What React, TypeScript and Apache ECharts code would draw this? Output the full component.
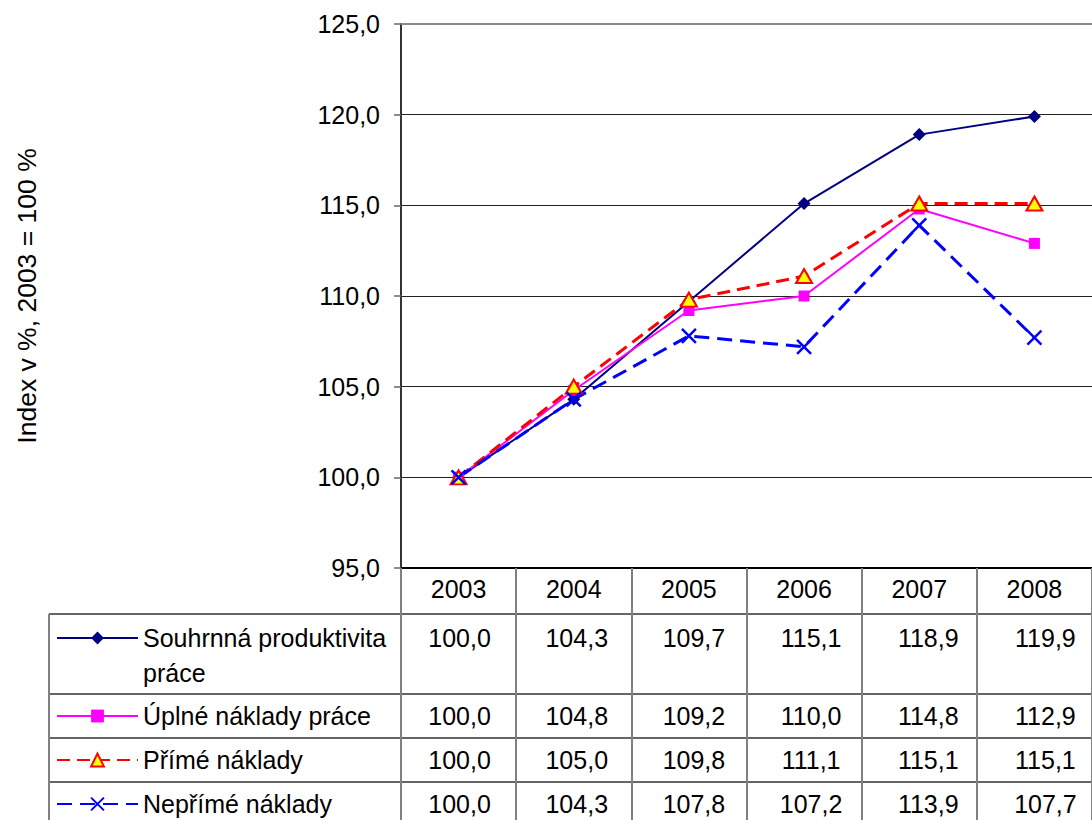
import React, { useEffect, useRef } from "react";
import * as echarts from "echarts";

const years = ["2003", "2004", "2005", "2006", "2007", "2008"];
const souhrnna = [100.0, 104.3, 109.7, 115.1, 118.9, 119.9];
const uplne = [100.0, 104.8, 109.2, 110.0, 114.8, 112.9];
const prime = [100.0, 105.0, 109.8, 111.1, 115.1, 115.1];
const neprime = [100.0, 104.3, 107.8, 107.2, 113.9, 107.7];
const seriesNames = [
  "Souhrnná produktivita práce",
  "Úplné náklady práce",
  "Přímé náklady",
  "Nepřímé náklady",
];
const yAxisTitle = "Index v %, 2003 = 100 %";
const yMin = 95;
const yMax = 125;
const yStep = 5;

const FONT = "'Liberation Sans', Arial, sans-serif";
const FS = 25;

// layout
const GL = 401;
const GW = 703;
const GT = 24;
const GB = 568;
const rowCenters = [638, 716, 760, 804];
const tableLines = [614, 694, 738, 782];

const fmt = (v: number) => v.toFixed(1).replace(".", ",");

export default function App() {
  const ref = useRef<HTMLDivElement>(null);
  useEffect(() => {
    const chart = echarts.init(ref.current!, null, { renderer: "svg" });
    const rows = [souhrnna, uplne, prime, neprime];
    const colW = GW / years.length;

    const graphics: any[] = [];
    graphics.push({
      type: "line",
      shape: { x1: GL, y1: GT, x2: 1092, y2: GT },
      style: { stroke: "#888", lineWidth: 2 },
      z: 1,
    });
    tableLines.forEach((y) => {
      graphics.push({
        type: "line",
        shape: { x1: 49, y1: y, x2: 1092, y2: y },
        style: { stroke: "#333", lineWidth: 1.5 },
      });
    });
    graphics.push({
      type: "line",
      shape: { x1: 49, y1: 614, x2: 49, y2: 820 },
      style: { stroke: "#808080", lineWidth: 2 },
    });
    rows.forEach((vals, r) => {
      vals.forEach((v, i) => {
        graphics.push({
          type: "text",
          style: {
            text: fmt(v),
            x: GL + (i + 0.5) * colW,
            y: rowCenters[r],
            textAlign: "center",
            textVerticalAlign: "middle",
            align: "center",
            verticalAlign: "middle",
            fontSize: FS,
            fontFamily: FONT,
            fill: "#000",
          },
        });
      });
    });
    graphics.push({
      type: "text",
      style: {
        text: "práce",
        x: 143,
        y: 673,
        textAlign: "left",
        textVerticalAlign: "middle",
        align: "left",
        verticalAlign: "middle",
        fontSize: FS,
        fontFamily: FONT,
        fill: "#000",
      },
    });

    const option: any = {
      animation: false,
      backgroundColor: "#fff",
      textStyle: { fontFamily: FONT },
      grid: { left: GL, top: GT, width: GW, height: GB - GT },
      legend: seriesNames.map((n, i) => ({
        data: [n],
        left: 56,
        top: rowCenters[i] - 15,
        padding: 0,
        itemWidth: 81,
        itemHeight: 16,
        selectedMode: false,
        formatter: (name: string) =>
          name === seriesNames[0] ? "Souhrnná produktivita" : name,
        textStyle: { fontSize: FS, lineHeight: 30, color: "#000", fontFamily: FONT },
      })),
      xAxis: {
        type: "category",
        data: years,
        boundaryGap: true,
        axisLine: { show: true, lineStyle: { color: "#000", width: 2 } },
        axisTick: { show: true, length: 252, lineStyle: { color: "#808080", width: 2 } },
        axisLabel: { margin: 8, fontSize: FS, color: "#000", fontFamily: FONT },
        splitLine: { show: false },
      },
      yAxis: {
        type: "value",
        min: yMin,
        max: yMax,
        interval: yStep,
        name: yAxisTitle,
        nameLocation: "middle",
        nameGap: 361,
        nameRotate: 90,
        nameTextStyle: { fontSize: 26.5, color: "#000", fontFamily: FONT },
        axisLine: { show: true, lineStyle: { color: "#333", width: 2 } },
        axisTick: { show: true, length: 7, lineStyle: { color: "#666", width: 1.5 } },
        axisLabel: { margin: 21, fontSize: FS, color: "#000", fontFamily: FONT, formatter: fmt },
        splitLine: { show: true, lineStyle: { color: "#222", width: 1 } },
      },
      series: [
        {
          name: seriesNames[0],
          type: "line",
          data: souhrnna,
          symbol: "diamond",
          symbolSize: 13,
          lineStyle: { color: "#000080", width: 2 },
          itemStyle: { color: "#000080" },
        },
        {
          name: seriesNames[1],
          type: "line",
          data: uplne,
          symbol: "rect",
          symbolSize: 11,
          lineStyle: { color: "#FF00FF", width: 2 },
          itemStyle: { color: "#FF00FF" },
        },
        {
          name: seriesNames[2],
          type: "line",
          data: prime,
          symbol: "triangle",
          symbolSize: [16, 14],
          lineStyle: { color: "#FF0000", width: 3, type: [13, 7] },
          itemStyle: { color: "#FFFF00", borderColor: "#FF0000", borderWidth: 2 },
        },
        {
          name: seriesNames[3],
          type: "line",
          data: neprime,
          symbol: "path://M0,0L10,10M10,0L0,10",
          symbolSize: 14,
          lineStyle: { color: "#0000FF", width: 3, type: [15, 8] },
          itemStyle: { color: "#0000FF", borderColor: "#0000FF", borderWidth: 2.5 },
        },
      ],
      graphic: graphics,
    };
    chart.setOption(option);
    return () => chart.dispose();
  }, []);
  return (
    <div
      ref={ref}
      style={{ position: "fixed", left: 0, top: 0, width: 1092, height: 820 }}
    />
  );
}
